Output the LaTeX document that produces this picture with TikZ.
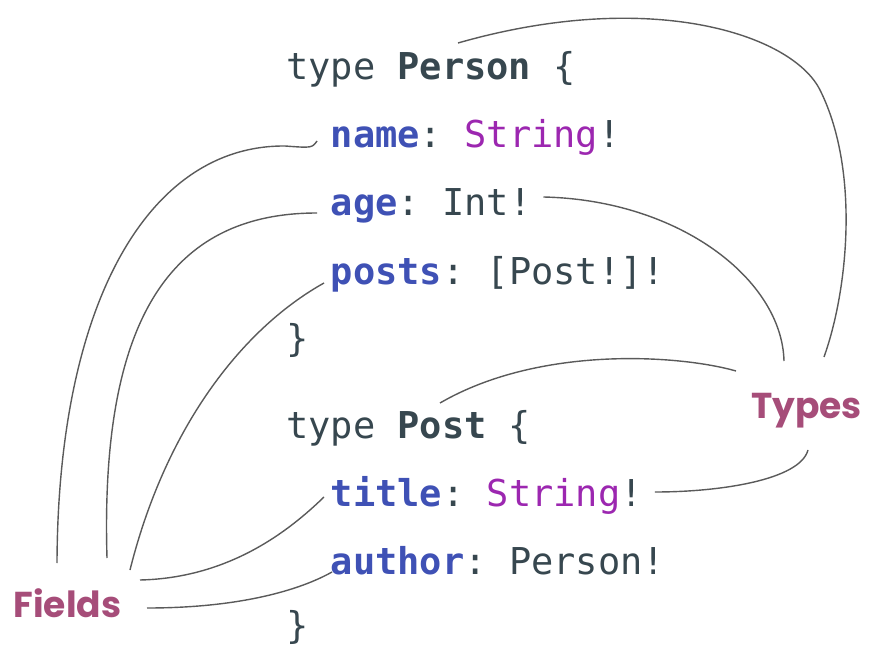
\documentclass[tikz,border=0pt]{standalone}
\usepackage{fontspec}
\setmonofont{DejaVu Sans Mono}
\newfontfamily\tagfont{Poppins}

\definecolor{codeink}{HTML}{37474F}
\definecolor{fieldblue}{HTML}{3F51B5}
\definecolor{scalarpurple}{HTML}{9C27B0}
\definecolor{tagrose}{HTML}{A64D79}
\definecolor{linkgray}{HTML}{5A5A5A}

\newcommand{\fld}[1]{\textcolor{fieldblue}{\bfseries #1}}
\newcommand{\scl}[1]{\textcolor{scalarpurple}{#1}}
\newcommand{\tname}[1]{\textbf{#1}}

\begin{document}
\begin{tikzpicture}[x=1pt,y=-1pt,
    codeline/.style={anchor=base west,inner sep=0pt,text=codeink,
      font=\ttfamily\fontsize{37}{37}\selectfont},
    tag/.style={anchor=base,inner sep=0pt,text=tagrose,
      font=\tagfont\bfseries\fontsize{36}{36}\selectfont},
    link/.style={draw=linkgray,line width=1.4pt}]
  \useasboundingbox (0,0) rectangle (876,647);

  % schema text
  \node[codeline] (person) at (286,80) {type \tname{Person} \{};
  \node[codeline] (name) at (330.6,148) {\fld{name}: \scl{String}!};
  \node[codeline] (age) at (330.6,216) {\fld{age}: Int!};
  \node[codeline] (posts) at (330.6,284) {\fld{posts}: [Post!]!};
  \node[codeline] (closeperson) at (286,352) {\}};
  \node[codeline] (post) at (286,438) {type \tname{Post} \{};
  \node[codeline] (title) at (330.6,506) {\fld{title}: \scl{String}!};
  \node[codeline] (author) at (330.6,574) {\fld{author}: Person!};
  \node[codeline] (closepost) at (286,638) {\}};

  % labels
  \node[tag] (fields) at (67.5,617) {Fields};
  \node[tag] (types) at (806.5,418) {Types};

  % fields
  \draw[link] ([shift={(-10.5,-54)}]fields.base)
    .. controls (58,300) and (150,145) .. (285,146)
    .. controls (312,148) .. ([shift={(-13.6,-7)}]name.base west);
  \draw[link] ([shift={(39.5,-59)}]fields.base)
    .. controls (100,320) and (170,213) .. ([shift={(-13.6,-3)}]age.base west);
  \draw[link] ([shift={(62.5,-47)}]fields.base)
    .. controls (165,430) and (240,330) .. ([shift={(-6.6,-1)}]posts.base west);
  \draw[link] ([shift={(72.5,-37)}]fields.base)
    .. controls (230,578) and (290,530) .. ([shift={(-6.6,-9)}]title.base west);
  \draw[link] ([shift={(79.5,-9)}]fields.base)
    .. controls (240,608) and (300,590) .. ([shift={(1.4,-2)}]author.base west);

  % types
  \draw[link] ([shift={(17.5,-61)}]types.base)
    .. controls (848,290) and (860,170) .. (820,90)
    .. controls (792,34) and (650,-12) .. ([shift={(172,-37)}]person.base west);
  \draw[link] ([shift={(-22.5,-57)}]types.base)
    .. controls (782,280) and (680,200) .. ([shift={(12,-19)}]age.base east);
  \draw[link] ([shift={(-70.5,-47)}]types.base)
    .. controls (680,355) and (540,345) .. ([shift={(154,-35)}]post.base west);
  \draw[link] ([shift={(1.5,32)}]types.base)
    .. controls (800,480) and (720,492) .. ([shift={(12,-14)}]title.base east);
\end{tikzpicture}
\end{document}
